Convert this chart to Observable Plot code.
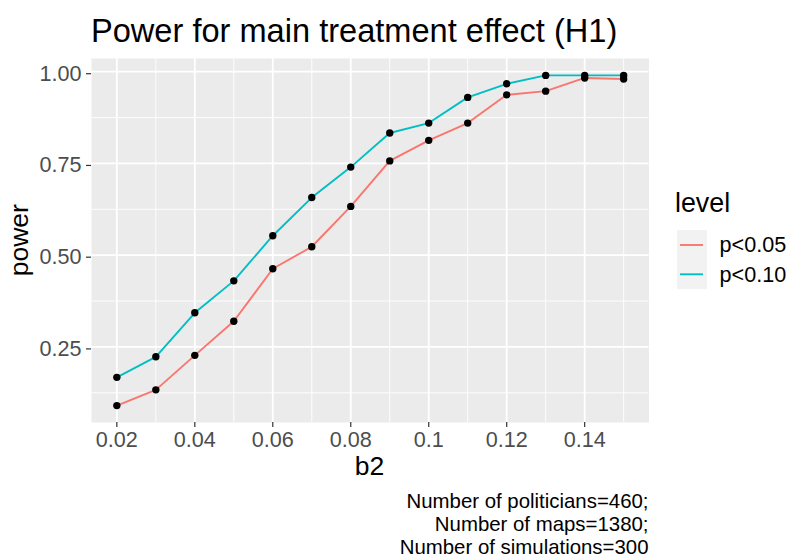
<!DOCTYPE html>
<html>
<head>
<meta charset="utf-8">
<script src="https://cdn.jsdelivr.net/npm/d3@7"></script>
<script src="https://cdn.jsdelivr.net/npm/@observablehq/plot@0.6"></script>
<style>
  html, body { margin: 0; padding: 0; background: #fff; }
  #wrap { position: relative; width: 792px; height: 559px; overflow: hidden;
          font-family: "Liberation Sans", Arial, Helvetica, sans-serif; color: #000; }
  #wrap > svg { position: absolute; left: 0; top: 0; }
  .t { position: absolute; white-space: nowrap; line-height: 1; }
</style>
</head>
<body>
<div id="wrap"></div>
<script>
// ---- data ----
const b2 = [0.02, 0.03, 0.04, 0.05, 0.06, 0.07, 0.08, 0.09, 0.10, 0.11, 0.12, 0.13, 0.14, 0.15];
const powerP05 = [0.090, 0.133, 0.227, 0.320, 0.463, 0.523, 0.633, 0.757, 0.813, 0.860, 0.937, 0.947, 0.983, 0.980];
const powerP10 = [0.167, 0.223, 0.343, 0.430, 0.553, 0.657, 0.740, 0.833, 0.860, 0.930, 0.967, 0.990, 0.990, 0.990];
const levels = ["p<0.05", "p<0.10"];
const colors = ["#F8766D", "#00BFC4"];
const xTicks = [0.02, 0.04, 0.06, 0.08, 0.10, 0.12, 0.14];
const xTickLabels = ["0.02", "0.04", "0.06", "0.08", "0.1", "0.12", "0.14"];
const xMinor = [0.03, 0.05, 0.07, 0.09, 0.11, 0.13, 0.15];
const yTicks = [0.25, 0.50, 0.75, 1.00];
const yTickLabels = ["0.25", "0.50", "0.75", "1.00"];
const yMinor = [0.125, 0.375, 0.625, 0.875];
const titleText = "Power for main treatment effect (H1)";
const xTitle = "b2";
const yTitle = "power";
const legendTitle = "level";
const captionLines = ["Number of politicians=460;", "Number of maps=1380;", "Number of simulations=300"];

// ---- table ----
const series = [powerP05, powerP10];
const rows = [];
levels.forEach((lv, i) => series[i].forEach((v, j) => rows.push({b2: b2[j], power: v, level: lv})));

const font = "'Liberation Sans', Arial, Helvetica, sans-serif";

const chart = Plot.plot({
  width: 792,
  height: 480,
  marginTop: 58,
  marginBottom: 58,
  marginLeft: 91,
  marginRight: 143.5,
  style: {fontFamily: font, background: "transparent", overflow: "visible"},
  x: {domain: [0.0135, 0.1565]},
  y: {domain: [0.044, 1.036]},
  color: {domain: levels, range: colors},
  marks: [
    Plot.frame({fill: "#EBEBEB", stroke: null}),
    Plot.ruleY(yMinor, {stroke: "white", strokeWidth: 0.9}),
    Plot.ruleX(xMinor, {stroke: "white", strokeWidth: 0.9}),
    Plot.ruleY(yTicks, {stroke: "white", strokeWidth: 1.8}),
    Plot.ruleX(xTicks, {stroke: "white", strokeWidth: 1.8}),
    Plot.axisX({ticks: xTicks, tickFormat: d => xTickLabels[xTicks.indexOf(d)], tickSize: 5, tickPadding: 4,
                fontSize: 21.6, color: "#4D4D4D", stroke: "#333333", strokeWidth: 1.2, label: null}),
    Plot.axisY({ticks: yTicks, tickFormat: d => yTickLabels[yTicks.indexOf(d)], tickSize: 5, tickPadding: 5,
                fontSize: 21.6, color: "#4D4D4D", stroke: "#333333", strokeWidth: 1.2, dy: 2, label: null}),
    Plot.line(rows, {x: "b2", y: "power", stroke: "level", z: "level", strokeWidth: 1.9}),
    Plot.dot(rows, {x: "b2", y: "power", r: 3.7, fill: "black", stroke: null})
  ]
});

const wrap = document.getElementById("wrap");
wrap.appendChild(chart);

function addText(txt, css) {
  const d = document.createElement("div");
  d.className = "t";
  d.textContent = txt;
  Object.assign(d.style, css);
  wrap.appendChild(d);
  return d;
}

// title
addText(titleText, {left: "91px", top: "14.6px", fontSize: "32.6px"});
// x axis title
addText(xTitle, {left: "269.5px", width: "200px", textAlign: "center", top: "453.3px", fontSize: "26.5px"});
// y axis title (rotated)
addText(yTitle, {left: "-81px", width: "200px", textAlign: "center", top: "226.7px", height: "26.5px",
                 fontSize: "26.5px", transform: "rotate(-90deg)", transformOrigin: "50% 50%"});
// legend title
addText(legendTitle, {left: "675px", top: "190.4px", fontSize: "26.8px"});

// legend keys
const svgNS = "http://www.w3.org/2000/svg";
const key = document.createElementNS(svgNS, "svg");
key.setAttribute("width", "30");
key.setAttribute("height", "59");
Object.assign(key.style, {position: "absolute", left: "677px", top: "230px"});
const bg = document.createElementNS(svgNS, "rect");
bg.setAttribute("width", "30"); bg.setAttribute("height", "59"); bg.setAttribute("fill", "#F2F2F2");
key.appendChild(bg);
const keyYs = [15, 44.3];
levels.forEach((lv, i) => {
  const ln = document.createElementNS(svgNS, "line");
  ln.setAttribute("x1", "3"); ln.setAttribute("x2", "26");
  ln.setAttribute("y1", keyYs[i]); ln.setAttribute("y2", keyYs[i]);
  ln.setAttribute("stroke", colors[i]); ln.setAttribute("stroke-width", "1.9");
  key.appendChild(ln);
});
wrap.appendChild(key);
const labelTops = [234.4, 263.7];
levels.forEach((lv, i) => addText(lv, {left: "719.6px", top: labelTops[i] + "px", fontSize: "21.6px"}));

// caption: one line per element, right-aligned to the panel's right edge
const capTops = [490.1, 512.9, 535.7];
captionLines.forEach((l, i) => {
  addText(l, {right: (792 - 648.5) + "px", top: capTops[i] + "px", fontSize: "20.4px",
              lineHeight: "22.8px", height: "22.8px", textAlign: "right"});
});
</script>
</body>
</html>
